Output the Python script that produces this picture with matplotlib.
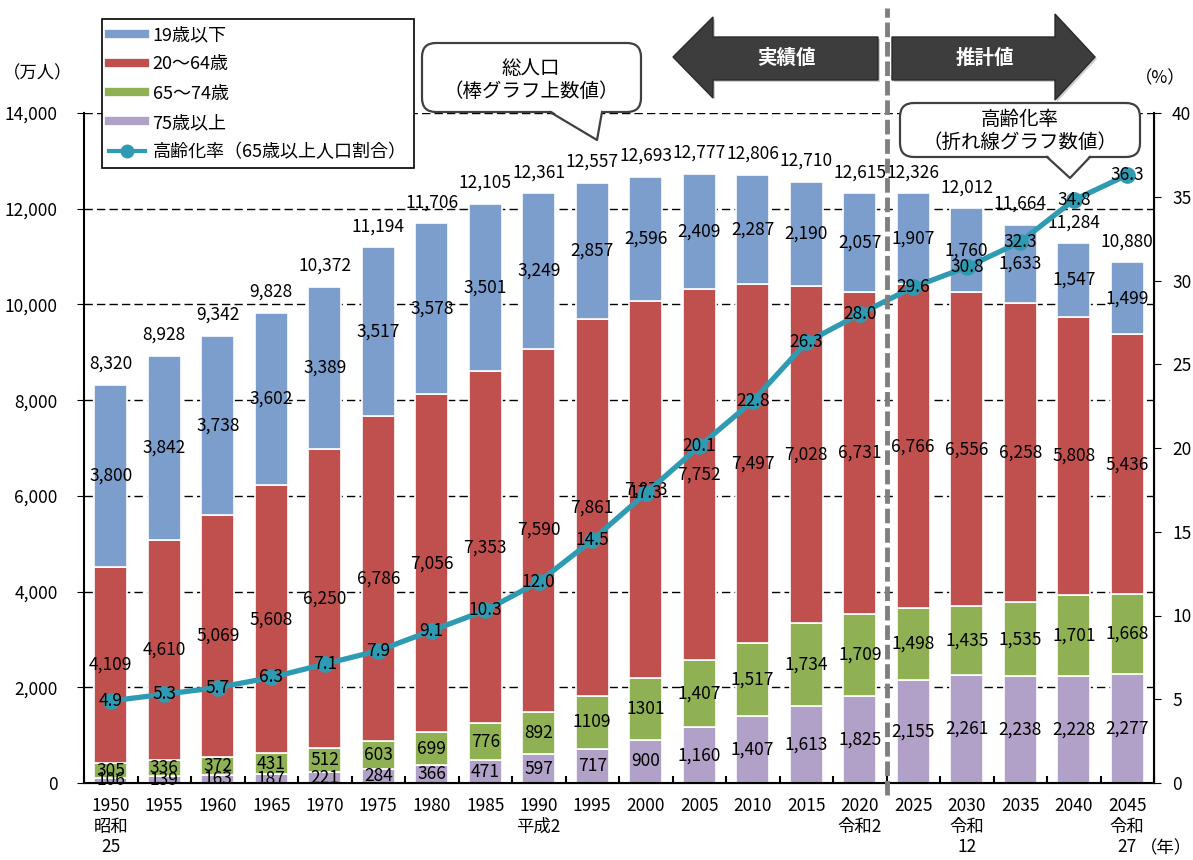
import numpy as np
import matplotlib
matplotlib.use("Agg")
import matplotlib.pyplot as plt
from matplotlib.lines import Line2D
from matplotlib.patches import FancyBboxPatch, Polygon

plt.rcParams['font.family'] = ['Noto Sans CJK JP', 'DejaVu Sans']

# population by age group (10k persons), actual to 2020, projected after
years = [1950, 1955, 1960, 1965, 1970, 1975, 1980, 1985, 1990, 1995,
         2000, 2005, 2010, 2015, 2020, 2025, 2030, 2035, 2040, 2045]
year_labels = ["1950\n昭和\n25", "1955", "1960", "1965", "1970", "1975", "1980",
               "1985", "1990\n平成2", "1995", "2000", "2005", "2010", "2015",
               "2020\n令和2", "2025", "2030\n令和\n12", "2035", "2040", "2045\n令和\n27"]
age_75_over = [106, 139, 163, 187, 221, 284, 366, 471, 597, 717,
               900, 1160, 1407, 1613, 1825, 2155, 2261, 2238, 2228, 2277]
age_65_74 = [305, 336, 372, 431, 512, 603, 699, 776, 892, 1109,
             1301, 1407, 1517, 1734, 1709, 1498, 1435, 1535, 1701, 1668]
age_20_64 = [4109, 4610, 5069, 5608, 6250, 6786, 7056, 7353, 7590, 7861,
             7873, 7752, 7497, 7028, 6731, 6766, 6556, 6258, 5808, 5436]
age_0_19 = [3800, 3842, 3738, 3602, 3389, 3517, 3578, 3501, 3249, 2857,
            2596, 2409, 2287, 2190, 2057, 1907, 1760, 1633, 1547, 1499]
total_pop = [8320, 8928, 9342, 9828, 10372, 11194, 11706, 12105, 12361, 12557,
             12693, 12777, 12806, 12710, 12615, 12326, 12012, 11664, 11284, 10880]
aging_rate = [4.9, 5.3, 5.7, 6.3, 7.1, 7.9, 9.1, 10.3, 12.0, 14.5,
              17.3, 20.1, 22.8, 26.3, 28.0, 29.6, 30.8, 32.3, 34.8, 36.3]
# these two values are printed without a thousands separator
no_comma_years = (1995, 2000)

names = ["75歳以上", "65～74歳", "20～64歳", "19歳以下"]
colors = ["#b1a0c7", "#8fb154", "#c0504d", "#7b9ecd"]
teal = "#2f9bb3"
fs = 12.5

W, H = 1193, 860
fig = plt.figure(figsize=(W / 100, H / 100), dpi=100)
ax = fig.add_axes([84 / W, 1 - 783 / H, (1154 - 84) / W, (783 - 113) / H])

x = np.arange(len(years))
bottom = np.zeros(len(years))
for k, (vals, c) in enumerate(zip([age_75_over, age_65_74, age_20_64, age_0_19], colors)):
    vals = np.array(vals)
    ax.bar(x, vals, width=0.62, bottom=bottom, color=c, edgecolor="white", lw=1.2, zorder=2)
    for xi, yr, b, v in zip(x, years, bottom, vals):
        s = str(v) if (k == 1 and yr in no_comma_years) else f"{v:,}"
        ax.text(xi, b + v / 2, s, ha="center", va="center", fontsize=fs, zorder=4)
    bottom += vals

for xi, top, t in zip(x, bottom, total_pop):
    ax.annotate(f"{t:,}", (xi, top), xytext=(0, 15), textcoords="offset points",
                ha="center", va="center", fontsize=fs)

for gy in range(2000, 14001, 2000):
    ax.axhline(gy, color="black", lw=1, ls=(0, (6, 3)), zorder=1)

ax.set_xlim(-0.5, len(years) - 0.5)
ax.set_ylim(0, 14000)
ax.set_yticks(range(0, 14001, 2000))
ax.set_yticklabels([f"{v:,}" for v in range(0, 14001, 2000)], fontsize=fs)
ax.set_xticks(x)
ax.set_xticklabels(year_labels, fontsize=fs, linespacing=1.2)
ax.set_xticks(np.arange(-0.5, len(years), 1), minor=True)
ax.tick_params(axis="x", which="major", length=0, pad=10)
ax.tick_params(axis="x", which="minor", direction="in", length=5, width=1.5)
ax.tick_params(axis="y", length=5, pad=14)
ax.spines["top"].set_visible(False)
for s in ("left", "bottom"):
    ax.spines[s].set_linewidth(1.5)

# aging rate on the right axis
ax2 = ax.twinx()
ax2.plot(x, aging_rate, color=teal, lw=3.8, marker="o", ms=11, zorder=3)
for xi, r in zip(x, aging_rate):
    ax2.text(xi, r, f"{r:.1f}", ha="center", va="center", fontsize=fs, zorder=5)
ax2.set_ylim(0, 40)
ax2.set_yticks(range(0, 41, 5))
ax2.tick_params(axis="y", labelsize=fs, length=5, pad=8)
ax2.spines["top"].set_visible(False)
ax2.spines["right"].set_linewidth(1.5)
ax2.spines["left"].set_visible(False)

# boundary between actual and projected values
ax2.plot([14.5, 14.5], [-0.018, 1.157], transform=ax2.get_xaxis_transform(),
         color="#7f7f7f", lw=3.5, ls=(0, (3, 1)), clip_on=False, zorder=6)

# overlay in pixel coordinates for annotations
ov = fig.add_axes([0, 0, 1, 1], zorder=10)
ov.set_xlim(0, W)
ov.set_ylim(H, 0)
ov.axis("off")
ov.patch.set_alpha(0)

ov.text(38, 73, "（万人）", ha="center", va="center", fontsize=fs)
ov.text(1160, 78, "（%）", ha="center", va="center", fontsize=fs)
ov.text(1140, 848, "（年）", ha="left", va="center", fontsize=fs)

left_arrow = [(673, 57), (713, 17), (713, 37), (878, 37), (878, 80), (713, 80), (713, 98)]
right_arrow = [(892, 37), (1055, 37), (1055, 14), (1095, 57), (1055, 100), (1055, 80), (892, 80)]
for pts in (left_arrow, right_arrow):
    ov.add_patch(Polygon([(px + 2, py + 2) for px, py in pts], closed=True,
                         fc="#b0b0b0", ec="none", alpha=0.6))
    ov.add_patch(Polygon(pts, closed=True, fc="#3d3d3d", ec="#2a2a2a", lw=1))
ov.text(786, 58, "実績値", color="white", fontsize=14, fontweight="bold", ha="center", va="center")
ov.text(985, 58, "推計値", color="white", fontsize=14, fontweight="bold", ha="center", va="center")


def callout(x0, y0, x1, y1, tail, text, cx, cy):
    edge = "#404040"
    ov.add_patch(FancyBboxPatch((x0, y0), x1 - x0, y1 - y0,
                                boxstyle="round,pad=0,rounding_size=14",
                                fc="white", ec=edge, lw=1.6))
    (ax0, tx, ty, ax1) = tail
    ov.add_patch(Polygon([(ax0, y1 - 2), (tx, ty), (ax1, y1 - 2)], closed=True,
                         fc="white", ec="none"))
    ov.plot([ax0, tx, ax1], [y1, ty, y1], color=edge, lw=1.6)
    ov.text(cx, cy, text, ha="center", va="center", fontsize=14, linespacing=1.15)


callout(422, 43, 641, 112, (550, 597, 140, 602), "総人口\n（棒グラフ上数値）", 531, 80)
callout(900, 103, 1140, 157, (1047, 1070, 178, 1090), "高齢化率\n（折れ線グラフ数値）", 1020, 131)

handles = [Line2D([0], [0], color=colors[3], lw=6),
           Line2D([0], [0], color=colors[2], lw=6),
           Line2D([0], [0], color=colors[1], lw=6),
           Line2D([0], [0], color=colors[0], lw=6),
           Line2D([0], [0], color=teal, lw=3, marker="o", ms=9)]
labels = ["19歳以下", "20～64歳", "65～74歳", "75歳以上", "高齢化率（65歳以上人口割合）"]
leg = ov.legend(handles, labels, loc="upper left", bbox_to_anchor=(102 / W, 1 - 19 / H),
                bbox_transform=fig.transFigure, fontsize=13, frameon=True, fancybox=False,
                edgecolor="black", framealpha=1, labelspacing=0.62, handlelength=2.0,
                handletextpad=0.4, borderpad=0.4, borderaxespad=0)
leg.get_frame().set_linewidth(1.2)

fig.savefig("out.png", dpi=100)
